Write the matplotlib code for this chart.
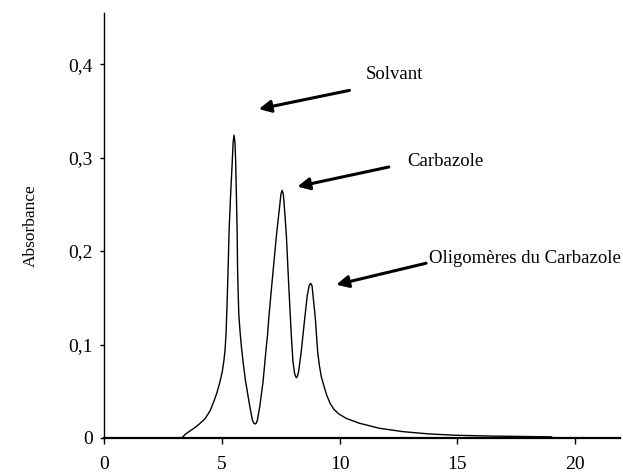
import matplotlib
matplotlib.use("Agg")
from matplotlib import pyplot as plt

# chromatogram (time, absorbance)
time = [3.3, 3.45, 3.65, 3.85, 4.05, 4.3, 4.5, 4.66, 4.8, 4.92, 5.02, 5.09,
        5.14, 5.18, 5.22, 5.26, 5.31, 5.37, 5.44, 5.48, 5.52, 5.56, 5.59,
        5.62, 5.65, 5.67, 5.69, 5.72, 5.77, 5.83, 5.91, 6.0, 6.10, 6.19,
        6.30, 6.36, 6.41, 6.46, 6.51, 6.61, 6.75, 6.89, 6.94, 7.0, 7.13,
        7.32, 7.46, 7.51, 7.56, 7.61, 7.65, 7.74, 7.84, 7.95, 8.02, 8.09,
        8.16, 8.21, 8.26, 8.37, 8.52, 8.63, 8.71, 8.77, 8.83, 8.87, 8.97,
        9.07, 9.14, 9.22, 9.32, 9.45, 9.6, 9.75, 9.95, 10.28, 10.85, 11.69,
        12.68, 13.81, 14.94, 16.5, 19.0]
absorb = [0.0, 0.004, 0.0075, 0.011, 0.015, 0.021, 0.029, 0.039, 0.049,
          0.060, 0.071, 0.083, 0.095, 0.112, 0.140, 0.175, 0.222, 0.258,
          0.294, 0.316, 0.324, 0.316, 0.294, 0.258, 0.222, 0.180, 0.160,
          0.133, 0.115, 0.098, 0.080, 0.062, 0.047, 0.0335, 0.019, 0.0158,
          0.015, 0.0158, 0.019, 0.0335, 0.060, 0.098, 0.110, 0.130, 0.166,
          0.217, 0.249, 0.261, 0.265, 0.261, 0.249, 0.217, 0.164, 0.110,
          0.082, 0.069, 0.0645, 0.066, 0.071, 0.092, 0.128, 0.153, 0.163,
          0.1655, 0.163, 0.153, 0.128, 0.092, 0.078, 0.066, 0.057, 0.046,
          0.037, 0.031, 0.026, 0.021, 0.0157, 0.0104, 0.0068, 0.0043, 0.0029,
          0.002, 0.0012]

labels = ["Solvant", "Carbazole", "Oligomères du Carbazole"]
label_xy = [(12.33, 0.389), (14.51, 0.296), (17.88, 0.192)]
arrow_tail = [(10.42, 0.372), (12.09, 0.290), (13.67, 0.187)]
arrow_head = [(6.57, 0.352), (8.21, 0.269), (9.86, 0.164)]

xticks = [0, 5, 10, 15, 20]
yticks = [0, 0.1, 0.2, 0.3, 0.4]
yticklabels = ["0", "0,1", "0,2", "0,3", "0,4"]

plt.rcParams['font.family'] = ['Liberation Serif', 'DejaVu Serif']

fig = plt.figure(figsize=(6.23, 4.74), dpi=100)
ax = fig.add_axes([0.167, 0.076, 0.828, 0.897])

ax.plot(time, absorb, color='black', lw=1.0, solid_joinstyle='round')

ax.set_xlim(0, 21.9)
ax.set_ylim(0, 0.455)
ax.spines['top'].set_visible(False)
ax.spines['right'].set_visible(False)
ax.spines['left'].set_linewidth(1.0)
ax.spines['bottom'].set_linewidth(1.6)

ax.set_xticks(xticks)
ax.set_xticklabels([str(t) for t in xticks], fontsize=14)
ax.set_yticks(yticks)
ax.set_yticklabels(yticklabels, fontsize=14)
ax.tick_params(axis='x', length=4, width=1, pad=9)
ax.tick_params(axis='y', length=3, width=1, pad=5)
ax.set_ylabel("Absorbance", fontsize=12.5, labelpad=21)

for txt, xy, tail, head in zip(labels, label_xy, arrow_tail, arrow_head):
    ax.text(xy[0], xy[1], txt, fontsize=13.5, ha='center', va='center')
    ax.annotate("", xy=head, xytext=tail,
                arrowprops=dict(arrowstyle='-|>', color='black', lw=2.2,
                                mutation_scale=18, shrinkA=0, shrinkB=0))

fig.savefig("out.png", dpi=100)
